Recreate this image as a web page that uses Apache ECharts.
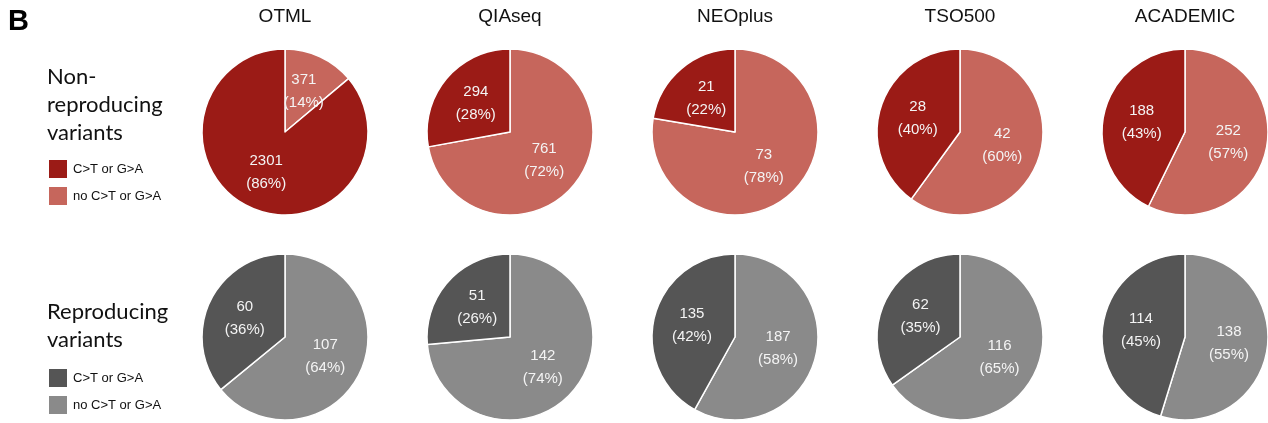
<!DOCTYPE html>
<html>
<head>
<meta charset="utf-8">
<script src="https://cdn.jsdelivr.net/npm/echarts@6/dist/echarts.min.js"></script>
<style>
  html, body { margin: 0; padding: 0; background: #fff; }
  #chart { width: 1268px; height: 423px; }
</style>
</head>
<body>
<div id="chart"></div>
<script>
// panels (columns)
var panels = ["OTML", "QIAseq", "NEOplus", "TSO500", "ACADEMIC"];
// slice categories
var categories = ["C>T or G>A", "no C>T or G>A"];
// counts: C>T or G>A / no C>T or G>A
var nonReproCT = [2301, 294, 21, 28, 188];
var nonReproNoCT = [371, 761, 73, 42, 252];
var reproCT = [60, 51, 135, 62, 114];
var reproNoCT = [107, 142, 187, 116, 138];

var redDark = "#9b1b16", redLight = "#c6665c";
var grayDark = "#555555", grayLight = "#8a8a8a";

var colX = [285, 510, 735, 960, 1185];
var rowY = [132, 337];
var radius = 83;

function pieSeries(col, row, ct, noCt, cDark, cLight) {
  return {
    type: "pie",
    center: [colX[col], rowY[row]],
    radius: radius,
    startAngle: 90,
    clockwise: true,
    percentPrecision: 0,
    avoidLabelOverlap: false,
    silent: true,
    itemStyle: { borderColor: "#ffffff", borderWidth: 1.5 },
    label: {
      show: true,
      position: "inside",
      formatter: "{c}\n({d}%)",
      color: "#f4f4f4",
      fontFamily: "Liberation Sans, Arial, sans-serif",
      fontSize: 15,
      lineHeight: 23
    },
    labelLine: { show: false },
    emphasis: { disabled: true },
    data: [
      { name: categories[1], value: noCt, itemStyle: { color: cLight } },
      { name: categories[0], value: ct, itemStyle: { color: cDark } }
    ]
  };
}

var series = [];
var titles = [];
for (var i = 0; i < panels.length; i++) {
  series.push(pieSeries(i, 0, nonReproCT[i], nonReproNoCT[i], redDark, redLight));
  series.push(pieSeries(i, 1, reproCT[i], reproNoCT[i], grayDark, grayLight));
  titles.push({
    text: panels[i],
    left: colX[i],
    top: 7,
    textAlign: "center",
    padding: 0,
    textStyle: {
      fontFamily: "Liberation Sans, Arial, sans-serif",
      fontSize: 19,
      fontWeight: "normal",
      color: "#111",
      lineHeight: 20
    }
  });
}

titles.push({
  text: "B",
  left: 8,
  top: 7,
  padding: 0,
  textStyle: { fontFamily: "Liberation Sans, Arial, sans-serif", fontSize: 29, fontWeight: "bold", color: "#000", lineHeight: 30 }
});
titles.push({
  text: "Non-\nreproducing\nvariants",
  left: 47,
  top: 63,
  padding: 0,
  textStyle: { fontFamily: "Lato, sans-serif", fontSize: 22, fontWeight: "normal", color: "#111", lineHeight: 28 }
});
titles.push({
  text: "Reproducing\nvariants",
  left: 47,
  top: 298,
  padding: 0,
  textStyle: { fontFamily: "Lato, sans-serif", fontSize: 22, fontWeight: "normal", color: "#111", lineHeight: 28 }
});

function legendBlock(top, cDark, cLight) {
  return {
    orient: "vertical",
    left: 47,
    top: top,
    padding: 0,
    itemWidth: 20,
    itemHeight: 20,
    itemGap: 5,
    icon: "rect",
    selectedMode: false,
    textStyle: { fontFamily: "Liberation Sans, Arial, sans-serif", fontSize: 13, color: "#111" },
    data: [
      { name: categories[0], itemStyle: { color: cDark } },
      { name: categories[1], itemStyle: { color: cLight } }
    ]
  };
}

var chart = echarts.init(document.getElementById("chart"));
chart.setOption({
  backgroundColor: "#ffffff",
  animation: false,
  title: titles,
  legend: [legendBlock(158, redDark, redLight), legendBlock(367, grayDark, grayLight)],
  series: series
});
</script>
</body>
</html>
